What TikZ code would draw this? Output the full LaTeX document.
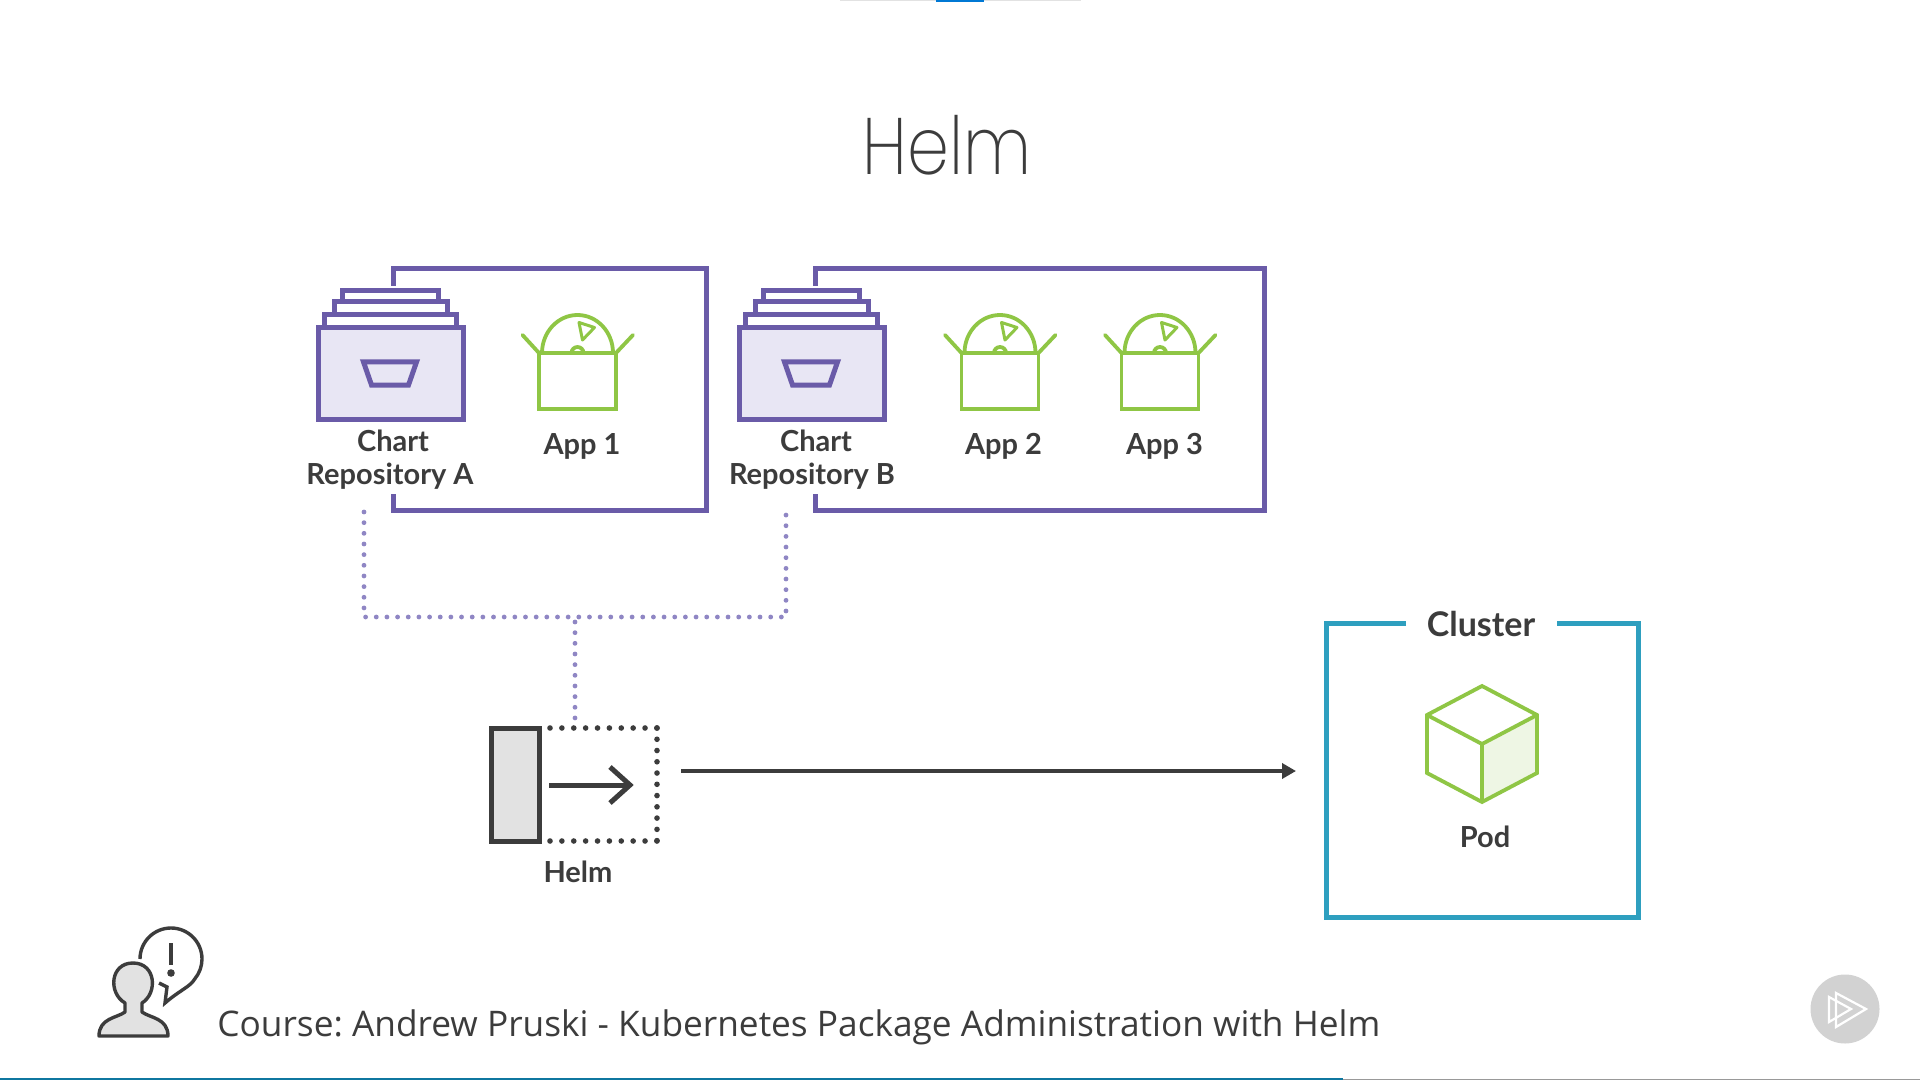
\documentclass[tikz,border=0pt]{standalone}
\usepackage{fontspec}
\usetikzlibrary{arrows.meta}
\setmainfont{Lato}[BoldFont=* Bold]
\newfontfamily\titlefont{Poppins ExtraLight}[FakeStretch=0.84]
\newfontfamily\coursefont{Open Sans}
\definecolor{inkdark}{HTML}{3C3C3C}
\definecolor{repoline}{HTML}{6A5BA8}
\definecolor{repofill}{HTML}{E8E6F4}
\definecolor{dotline}{HTML}{8F86C4}
\definecolor{appgreen}{HTML}{8FC645}
\definecolor{podfill}{HTML}{EEF6E4}
\definecolor{clusterline}{HTML}{2E9FBF}
\definecolor{grayfill}{HTML}{E2E2E2}
\definecolor{topblue}{HTML}{0078D4}
\definecolor{barblue}{HTML}{0F77A0}
\tikzset{
  repoedge/.style={draw=repoline,line width=2.5pt},
  greenedge/.style={draw=appgreen,line width=1.9pt},
  clusteredge/.style={draw=clusterline,line width=2.5pt},
  lbl/.style={font=\fontsize{14.5}{17}\selectfont\bfseries,text=inkdark,inner sep=0pt,align=center},
  purpledots/.style={draw=dotline,line width=2.4pt,line cap=round,dash pattern=on 0pt off 5.33pt},
  darkdotsh/.style={draw=inkdark,line width=2.8pt,line cap=round,dash pattern=on 0pt off 5.94pt},
  darkdotsv/.style={draw=inkdark,line width=2.8pt,line cap=round,dash pattern=on 0pt off 5.63pt},
  repoicon/.pic={
    \path[repoedge,fill=white] (24,-37) rectangle (120,-20);
    \path[repoedge,fill=white] (16,-26) rectangle (129,-10);
    \path[repoedge,fill=white] (5.5,-13) rectangle (138,0);
    \path[repoedge,fill=repofill] (0,0) rectangle (144.5,91.5);
    \path[repoedge] (45,34) -- (98,34) -- (90,57) -- (53,57) -- cycle;
  },
  appicon/.pic={
    \path[greenedge,line cap=round] (-38.5,0) -- (-55,-18);
    \path[greenedge,line cap=round] (38.5,0) -- (55.5,-18);
    \path[greenedge] (-35.5,0) arc[start angle=180,end angle=360,x radius=35.5,y radius=38];
    \path[greenedge] (-6,0) arc[start angle=180,end angle=360,radius=6];
    \path[greenedge,line width=1.5pt,line join=round] (1.5,-30.5) -- (17,-25.5) -- (5,-13) -- cycle;
    \path[greenedge] (-38.5,0) rectangle (38.5,56);
  }
}
\begin{document}
\begin{tikzpicture}[x=0.5pt,y=-0.5pt]
\useasboundingbox (0,0) rectangle (1920,1080);
\fill[white] (0,0) rectangle (1920,1080);
% top progress line
\fill[grayfill] (840,0) rectangle (1081,1.2);
\fill[topblue] (936,0) rectangle (984,1.6);
% title
\node[inner sep=0pt,text=inkdark,font=\titlefont\fontsize{40}{48}\selectfont] (title) at (947,145) {Helm};
% repository boxes
\path[repoedge] (393,286) -- (393,269) -- (706,269) -- (706,510) -- (393,510) -- (393,494);
\path[repoedge] (815,286) -- (815,269) -- (1264.5,269) -- (1264.5,510) -- (815,510) -- (815,494);
\pic at (318.5,328) {repoicon};
\pic at (739.5,328) {repoicon};
\pic at (577.5,353) {appicon};
\pic at (1000,353) {appicon};
\pic at (1160,353) {appicon};
\node[lbl] (chartA) at (393,441) {Chart};
\node[lbl] (repoA) at (390,476) {Repository A};
\node[lbl] (app1) at (582,446) {App 1};
\node[lbl] (chartB) at (816,441) {Chart};
\node[lbl] (repoB) at (812,476) {Repository B};
\node[lbl] (app2) at (1003.5,446) {App 2};
\node[lbl] (app3) at (1164.5,446) {App 3};
% dotted connectors
\coordinate (dotA) at (364,512);
\coordinate (dotB) at (786,512);
\coordinate (dotL) at (364,617);
\coordinate (dotR) at (786,617);
\coordinate (dotJ) at (575,622);
\coordinate (dotH) at (575,718);
\draw[purpledots] (dotA) -- (dotL) -- (dotR) -- (dotB);
\draw[purpledots] (dotJ) -- (dotH);
% helm icon
\coordinate (hA) at (550,728);
\coordinate (hB) at (657,728);
\coordinate (hC) at (657,841);
\coordinate (hD) at (550,841);
\draw[darkdotsh] (hA) -- (hB);
\draw[darkdotsv] (hB) -- (hC);
\draw[darkdotsh] (hD) -- (hC);
\node[draw=inkdark,fill=grayfill,line width=2.5pt,minimum width=24pt,minimum height=56.5pt,inner sep=0pt] (helmbox) at (515.5,785) {};
\coordinate (hS) at (549,785);
\coordinate (hE) at (630,785);
\draw[inkdark,line width=2.5pt] (hS) -- (hE);
\draw[inkdark,line width=2.5pt] (610,767) -- (hE) -- (610,803);
\node[lbl] (helmlabel) at (578,872) {Helm};
% arrow to the cluster
\coordinate (arrS) at (681,771);
\coordinate (arrE) at (1296,771);
\draw[inkdark,line width=2.25pt,-{Triangle[length=7pt,width=7.5pt]}] (arrS) -- (arrE);
% cluster
\path[clusteredge] (1406,623) -- (1326,623) -- (1326,917) -- (1638,917) -- (1638,623) -- (1557,623);
\node[lbl,font=\fontsize{17}{20}\selectfont\bfseries] (cluster) at (1481,624) {Cluster};
% pod cube
\fill[podfill] (1482,744) -- (1537,715) -- (1537,773) -- (1482,802) -- cycle;
\path[greenedge] (1482,686) -- (1537,715) -- (1537,773) -- (1482,802) -- (1427,773) -- (1427,715) -- cycle;
\path[greenedge] (1427,715) -- (1482,744) -- (1537,715);
\path[greenedge] (1482,744) -- (1482,802);
\node[lbl] (pod) at (1485,837) {Pod};
% person icon
\path[draw=inkdark,fill=grayfill,line width=1.7pt,line join=round]
  (125,1003) .. controls (108,993) and (110,963) .. (133,963)
  .. controls (156,963) and (158,993) .. (142,1003)
  -- (142,1012) .. controls (150,1018) and (168,1018) .. (168,1036)
  -- (99,1036) .. controls (99,1018) and (117,1018) .. (125,1012) -- cycle;
\draw[inkdark,line width=1.7pt,line join=miter]
  (140,959) arc[start angle=180,end angle=400,radius=31]
  .. controls (190,987) and (180,990) .. (165,1003) -- (167,987) -- (159,983);
\draw[inkdark,line width=1.7pt] (171,943) -- (171,965);
\fill[inkdark] (171,973) circle (3.8);
% course line
\node[anchor=base west,inner sep=0pt,text=inkdark,font=\coursefont\fontsize{17.63}{21}\selectfont\frenchspacing] (course) at (217,1036) {Course: Andrew Pruski - Kubernetes Package Administration with Helm};
% play button
\fill[gray!35] (1845,1009) circle (34.5);
\draw[white,line width=1.1pt] (1836,993) -- (1866,1009) -- (1836,1027) -- cycle;
\draw[white,line width=1.1pt] (1829,997) -- (1851,1009) -- (1829,1022) -- cycle;
% bottom bar
\fill[gray!80] (1343,1078.5) rectangle (1920,1080);
\fill[barblue] (0,1078) rectangle (1343,1080);
\end{tikzpicture}
\end{document}
